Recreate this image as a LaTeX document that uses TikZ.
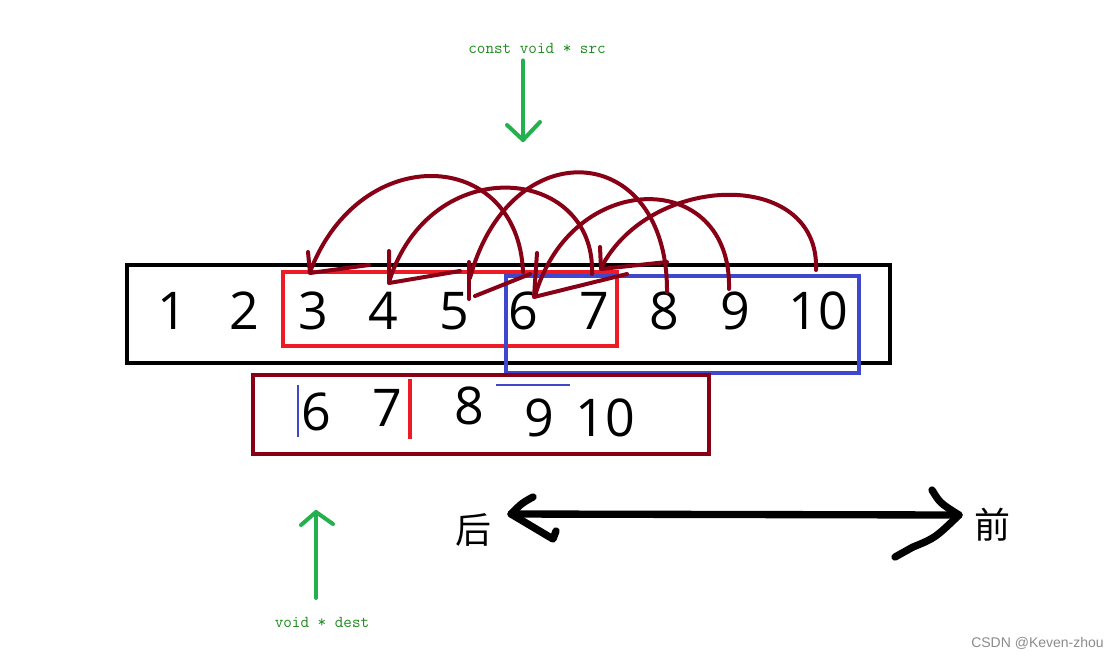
\documentclass[tikz,border=0pt]{standalone}
\usepackage{fontspec}
\setmainfont{Open Sans}
\newfontfamily\cjk{Noto Sans CJK SC}
\newfontfamily\wmfont{Liberation Sans}
\definecolor{dkred}{HTML}{880015}
\definecolor{pred}{HTML}{ED1C24}
\definecolor{pblue}{HTML}{3F48CC}
\definecolor{pgreen}{HTML}{22B14C}
\definecolor{tgreen}{HTML}{1E8C1E}
\begin{document}
\begin{tikzpicture}[x=0.75pt,y=-0.75pt,
  digit/.style={font=\fontsize{39}{42}\selectfont, inner sep=0pt, anchor=center},
  cjklabel/.style={font=\cjk\fontsize{27}{30}\selectfont, inner sep=0pt, anchor=center},
  codelabel/.style={font=\ttfamily\fontsize{12.5}{14}\selectfont, text=tgreen, inner sep=0pt, anchor=center},
  hop/.style={draw=dkred, line width=3pt, line cap=round, line join=round},
  gline/.style={draw=pgreen, line width=3pt, line cap=round, line join=round},
  bline/.style={draw=black, line width=5.5pt, line cap=round, line join=round},
  box/.style={line width=3pt}]
\useasboundingbox (0,0) rectangle (1119,658);
\fill[white] (0,0) rectangle (1119,658);

% boxes
\draw[box, draw=black, line width=3.2pt] (127,265) rectangle (890,363);
\draw[box, draw=pred] (283,272) rectangle (617,346);
\draw[box, draw=pblue] (506,276) rectangle (859,373);
\draw[box, draw=dkred, line width=3.2pt] (253,375) rectangle (709,454);

% top row digits
\node[digit] (d1) at (172,311) {1};
\node[digit] (d2) at (244,311) {2};
\node[digit] (d3) at (313,311) {3};
\node[digit] (d4) at (383,311) {4};
\node[digit] (d5) at (454,311) {5};
\node[digit] (d6) at (523,311) {6};
\node[digit] (d7) at (594,311) {7};
\node[digit] (d8) at (664,311) {8};
\node[digit] (d9) at (735,311) {9};
\node[digit] (d10) at (818,311) {10};

% lower row digits
\node[digit] (e6) at (316,412) {6};
\node[digit] (e7) at (387,408) {7};
\node[digit] (e8) at (469,406) {8};
\node[digit] (e9) at (539,418) {9};
\node[digit] (e10) at (605,418) {10};
\draw[draw=pblue, line width=2.2pt] (298,385) -- (298,437);
\draw[draw=pred, line width=3pt] (410,379) -- (410,439);
\draw[draw=pblue, line width=1.5pt] (496,385) -- (570,385);

% hop arcs (freehand)
\draw[hop] (523,272) .. controls (518,148) and (360,140) .. (310,272);
\draw[hop] (308,252) -- (310,273) -- (369,265);

\draw[hop] (592,274) .. controls (596,165) and (430,150) .. (389,282);
\draw[hop] (389,251) -- (389,283) -- (460,271);

\draw[hop] (667,292) .. controls (668,140) and (510,130) .. (470,278);
\draw[hop] (469,262) -- (469,299);
\draw[hop] (475,296) -- (530,274);

\draw[hop] (729,289) .. controls (732,168) and (572,168) .. (535,296);
\draw[hop] (537,253) -- (534,297) -- (627,274);

\draw[hop] (816,270) .. controls (820,168) and (650,172) .. (601,268);
\draw[hop] (600,247) -- (601,269) -- (667,262);

% src pointer
\node[codelabel] (src) at (537,48) {const void * src};
\coordinate (srcend) at (523,140);
\draw[gline] (src.south) ++(-14,7) coordinate (srcstart) -- (srcend);
\draw[gline] (507,125) -- (srcend) -- (540,122);

% dest pointer
\node[codelabel] (dest) at (322,622) {void * dest};
\coordinate (desttip) at (316,512);
\draw[gline] (316,598) -- (desttip);
\draw[gline] (301,525) -- (desttip) -- (333,524);

% direction arrow
\node[cjklabel] (back) at (473,530) {后};
\node[cjklabel] (front) at (992,525) {前};
\coordinate (ltip) at (511,514);
\coordinate (rtip) at (959,515);
\draw[bline] (ltip) -- (rtip);
\draw[bline] (533,497) .. controls (522,503) .. (ltip) -- (553,539) -- (556,531);
\draw[bline] (932,490) .. controls (940,503) .. (rtip) .. controls (935,538) .. (913,547) -- (895,557);

% watermark
\node[font=\wmfont\fontsize{10.5}{12}\selectfont, text=black!45, anchor=east, inner sep=0pt] (wm) at (1104,643) {CSDN @Keven-zhou};
\end{tikzpicture}
\end{document}
